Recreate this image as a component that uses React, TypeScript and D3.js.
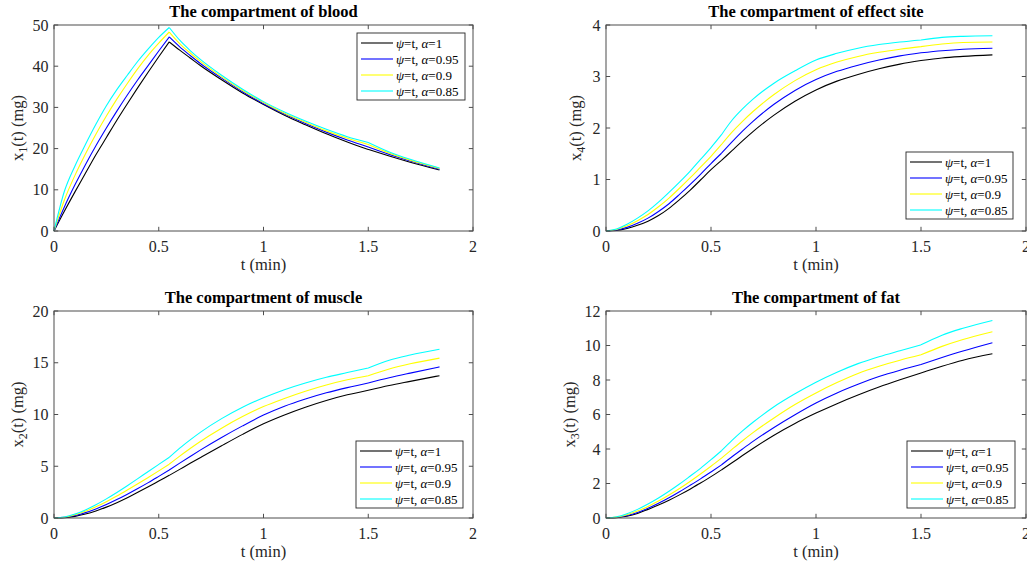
import React from 'react';
import * as d3 from 'd3';

// ---------- data ----------
const timeMin = [0, 0.05, 0.1, 0.15, 0.2, 0.25, 0.3, 0.35, 0.4, 0.45, 0.5, 0.55, 0.6, 0.65, 0.7, 0.8, 0.9, 1.0, 1.1, 1.2, 1.3, 1.4, 1.5, 1.6, 1.7, 1.84];
// times where the dosing changes (curves have a corner there)
const kinkTimes = [0.55, 1.5];

const seriesAlpha = ['1', '0.95', '0.9', '0.85'];
const seriesColors = ['#000000', '#0000ff', '#ffff00', '#00ffff'];

const xTicks = [0, 0.5, 1, 1.5, 2];

// blood x1
const bloodA100 = [0, 4.85, 9.5, 14.0, 18.5, 22.7, 26.9, 30.9, 34.8, 38.6, 42.3, 45.9, 43.9, 42.0, 40.1, 36.7, 33.5, 30.7, 28.1, 25.8, 23.6, 21.6, 19.8, 18.2, 16.7, 14.8];
const bloodA095 = [0, 5.9, 11.2, 16.1, 20.7, 25.0, 29.1, 33.0, 36.7, 40.2, 43.7, 47.1, 44.7, 42.6, 40.6, 37.1, 33.8, 30.9, 28.4, 26.1, 24.0, 22.1, 20.4, 18.6, 17.0, 15.0];
const bloodA090 = [0, 7.6, 13.5, 18.7, 23.5, 27.9, 32.0, 35.8, 39.4, 42.7, 45.6, 48.3, 45.5, 43.2, 41.1, 37.4, 34.1, 31.2, 28.6, 26.4, 24.3, 22.5, 21.0, 18.9, 17.2, 15.2];
const bloodA085 = [0, 9.7, 15.8, 21.0, 25.9, 30.4, 34.3, 37.8, 41.2, 44.2, 47.0, 49.4, 46.3, 43.8, 41.6, 37.8, 34.4, 31.4, 28.9, 26.7, 24.7, 22.9, 21.5, 19.2, 17.4, 15.3];
const bloodYTicks = [0, 10, 20, 30, 40, 50];

// effect site x4
const effectA100 = [0, 0.01, 0.05, 0.11, 0.19, 0.30, 0.44, 0.61, 0.79, 0.99, 1.19, 1.37, 1.56, 1.75, 1.93, 2.25, 2.52, 2.74, 2.91, 3.04, 3.15, 3.24, 3.31, 3.36, 3.39, 3.42];
const effectA095 = [0, 0.02, 0.07, 0.15, 0.25, 0.38, 0.53, 0.71, 0.9, 1.1, 1.31, 1.51, 1.73, 1.94, 2.13, 2.46, 2.73, 2.94, 3.1, 3.22, 3.32, 3.4, 3.46, 3.5, 3.53, 3.55];
const effectA090 = [0, 0.03, 0.1, 0.2, 0.32, 0.47, 0.64, 0.83, 1.03, 1.24, 1.45, 1.68, 1.92, 2.13, 2.32, 2.65, 2.92, 3.13, 3.28, 3.39, 3.47, 3.53, 3.58, 3.63, 3.66, 3.67];
const effectA085 = [0, 0.04, 0.13, 0.25, 0.39, 0.56, 0.75, 0.95, 1.16, 1.39, 1.62, 1.87, 2.15, 2.37, 2.56, 2.87, 3.11, 3.32, 3.45, 3.55, 3.62, 3.67, 3.71, 3.76, 3.78, 3.79];
const effectYTicks = [0, 1, 2, 3, 4];

// muscle x2
const muscleA100 = [0, 0.04, 0.16, 0.38, 0.68, 1.05, 1.48, 1.96, 2.48, 3.02, 3.57, 4.12, 4.7, 5.28, 5.85, 6.98, 8.08, 9.1, 9.95, 10.7, 11.35, 11.9, 12.35, 12.8, 13.2, 13.75];
const muscleA095 = [0, 0.06, 0.24, 0.52, 0.88, 1.3, 1.78, 2.3, 2.85, 3.42, 4.02, 4.63, 5.3, 5.95, 6.58, 7.78, 8.9, 9.94, 10.8, 11.5, 12.1, 12.6, 13.05, 13.55, 14.0, 14.6];
const muscleA090 = [0, 0.08, 0.31, 0.65, 1.08, 1.58, 2.12, 2.7, 3.3, 3.92, 4.55, 5.2, 5.98, 6.72, 7.42, 8.68, 9.8, 10.77, 11.55, 12.25, 12.85, 13.35, 13.75, 14.4, 14.9, 15.45];
const muscleA085 = [0, 0.1, 0.38, 0.78, 1.28, 1.85, 2.47, 3.12, 3.8, 4.5, 5.18, 5.85, 6.75, 7.55, 8.3, 9.6, 10.7, 11.62, 12.4, 13.05, 13.6, 14.05, 14.5, 15.25, 15.75, 16.3];
const muscleYTicks = [0, 5, 10, 15, 20];

// fat x3
const fatA100 = [0, 0.02, 0.1, 0.26, 0.5, 0.75, 1.03, 1.34, 1.67, 2.03, 2.4, 2.79, 3.2, 3.62, 4.03, 4.8, 5.48, 6.08, 6.63, 7.13, 7.59, 8.01, 8.41, 8.8, 9.15, 9.52];
const fatA095 = [0, 0.03, 0.14, 0.32, 0.56, 0.85, 1.17, 1.52, 1.89, 2.27, 2.67, 3.08, 3.55, 4.0, 4.44, 5.25, 5.99, 6.67, 7.25, 7.75, 8.2, 8.57, 8.9, 9.3, 9.68, 10.16];
const fatA090 = [0, 0.05, 0.19, 0.4, 0.67, 0.98, 1.33, 1.71, 2.12, 2.55, 3.0, 3.47, 3.98, 4.48, 4.95, 5.8, 6.58, 7.25, 7.85, 8.38, 8.8, 9.15, 9.46, 9.95, 10.35, 10.8];
const fatA085 = [0, 0.07, 0.25, 0.5, 0.81, 1.16, 1.55, 1.97, 2.42, 2.88, 3.38, 3.9, 4.5, 5.05, 5.55, 6.45, 7.2, 7.87, 8.45, 8.95, 9.35, 9.7, 10.04, 10.6, 11.0, 11.45];
const fatYTicks = [0, 2, 4, 6, 8, 10, 12];

// ---------- layout ----------
const FONT = '"Liberation Serif", "Times New Roman", Times, serif';
const AXIS = '#262626';
const FRAME = '#4d4d4d';

type PanelDef = {
  title: string;
  sub: string;
  series: number[][];
  yTicks: number[];
  box: { x0: number; x1: number; y0: number; y1: number };
  legend: { x: number; y: number; w: number };
  ylabelX: number;
};

const panels: PanelDef[] = [
  {
    title: 'The compartment of blood', sub: '1',
    series: [bloodA100, bloodA095, bloodA090, bloodA085], yTicks: bloodYTicks,
    box: { x0: 54, x1: 473, y0: 25, y1: 231 },
    legend: { x: 357, y: 33, w: 108 }, ylabelX: 23,
  },
  {
    title: 'The compartment of effect site', sub: '4',
    series: [effectA100, effectA095, effectA090, effectA085], yTicks: effectYTicks,
    box: { x0: 606, x1: 1026, y0: 25, y1: 231 },
    legend: { x: 906, y: 152, w: 107 }, ylabelX: 581,
  },
  {
    title: 'The compartment of muscle', sub: '2',
    series: [muscleA100, muscleA095, muscleA090, muscleA085], yTicks: muscleYTicks,
    box: { x0: 54, x1: 473, y0: 311, y1: 518 },
    legend: { x: 356, y: 441, w: 107 }, ylabelX: 23,
  },
  {
    title: 'The compartment of fat', sub: '3',
    series: [fatA100, fatA095, fatA090, fatA085], yTicks: fatYTicks,
    box: { x0: 606, x1: 1026, y0: 311, y1: 518 },
    legend: { x: 907, y: 441, w: 108 }, ylabelX: 575,
  },
];

// split index ranges at the kink times so each piece is smooth and corners stay sharp
const breakIdx = [0, ...kinkTimes.map((k) => timeMin.findIndex((t) => Math.abs(t - k) < 1e-9)), timeMin.length - 1];

function Panel({ p }: { p: PanelDef }) {
  const { x0, x1, y0, y1 } = p.box;
  const yMax = p.yTicks[p.yTicks.length - 1];
  const x = d3.scaleLinear().domain([0, 2]).range([x0, x1]);
  const y = d3.scaleLinear().domain([0, yMax]).range([y1, y0]);
  const line = d3
    .line<[number, number]>()
    .x((d) => x(d[0]))
    .y((d) => y(d[1]))
    .curve(d3.curveMonotoneX);
  const pathFor = (s: number[]) => {
    let d = '';
    for (let b = 0; b < breakIdx.length - 1; b++) {
      const pts: [number, number][] = [];
      for (let i = breakIdx[b]; i <= breakIdx[b + 1]; i++) pts.push([timeMin[i], s[i]]);
      d += line(pts) || '';
    }
    return d;
  };
  const tl = 4.2;
  const cy = (y0 + y1) / 2;
  const cx = (x0 + x1) / 2;
  const lg = p.legend;
  const rowH = 16;
  return (
    <g>
      {p.series.map((s, k) => (
        <path key={k} d={pathFor(s)} fill="none" stroke={seriesColors[k]} strokeWidth={1.1} strokeLinejoin="round" />
      ))}
      <rect x={x0} y={y0} width={x1 - x0} height={y1 - y0} fill="none" stroke={FRAME} strokeWidth={1} />
      {xTicks.map((t) => (
        <g key={'x' + t}>
          <line x1={x(t)} x2={x(t)} y1={y1} y2={y1 - tl} stroke={FRAME} strokeWidth={1} />
          <line x1={x(t)} x2={x(t)} y1={y0} y2={y0 + tl} stroke={FRAME} strokeWidth={1} />
          <text x={x(t)} y={y1 + 20.5} textAnchor="middle" fontSize={16} fill={AXIS} fontFamily={FONT}>{String(t)}</text>
        </g>
      ))}
      {p.yTicks.map((t) => (
        <g key={'y' + t}>
          <line x1={x0} x2={x0 + tl} y1={y(t)} y2={y(t)} stroke={FRAME} strokeWidth={1} />
          <line x1={x1} x2={x1 - tl} y1={y(t)} y2={y(t)} stroke={FRAME} strokeWidth={1} />
          <text x={x0 - 5.5} y={y(t) + 5.5} textAnchor="end" fontSize={16} fill={AXIS} fontFamily={FONT}>{String(t)}</text>
        </g>
      ))}
      <text x={cx} y={y0 - 8} textAnchor="middle" fontSize={16.5} fontWeight="bold" fill="#000" fontFamily={FONT}>{p.title}</text>
      <text x={cx} y={y1 + 39} textAnchor="middle" fontSize={16.5} fill={AXIS} fontFamily={FONT}>t (min)</text>
      <text transform={`translate(${p.ylabelX},${cy}) rotate(-90)`} textAnchor="middle" fontSize={16.5} fill={AXIS} fontFamily={FONT}>
        x<tspan fontSize={12} dy={4}>{p.sub}</tspan><tspan dy={-4}>(t) (mg)</tspan>
      </text>
      <rect x={lg.x} y={lg.y} width={lg.w} height={67} fill="#fff" stroke={AXIS} strokeWidth={0.9} />
      {seriesAlpha.map((a, k) => {
        const ry = lg.y + 10 + k * rowH;
        return (
          <g key={'l' + k}>
            <line x1={lg.x + 4} x2={lg.x + 36} y1={ry} y2={ry} stroke={seriesColors[k]} strokeWidth={1.1} />
            <text x={lg.x + 39} y={ry + 4.5} fontSize={13} fill="#000" fontFamily={FONT}>
              <tspan fontStyle="italic">ψ</tspan>=t, <tspan fontStyle="italic">α</tspan>={a}
            </text>
          </g>
        );
      })}
    </g>
  );
}

export default function App() {
  return (
    <svg width={1027} height={565} style={{ position: 'absolute', left: 0, top: 0, background: '#fff' }}>
      <rect x={0} y={0} width={1027} height={565} fill="#fff" />
      {panels.map((p, i) => (
        <Panel key={i} p={p} />
      ))}
    </svg>
  );
}
